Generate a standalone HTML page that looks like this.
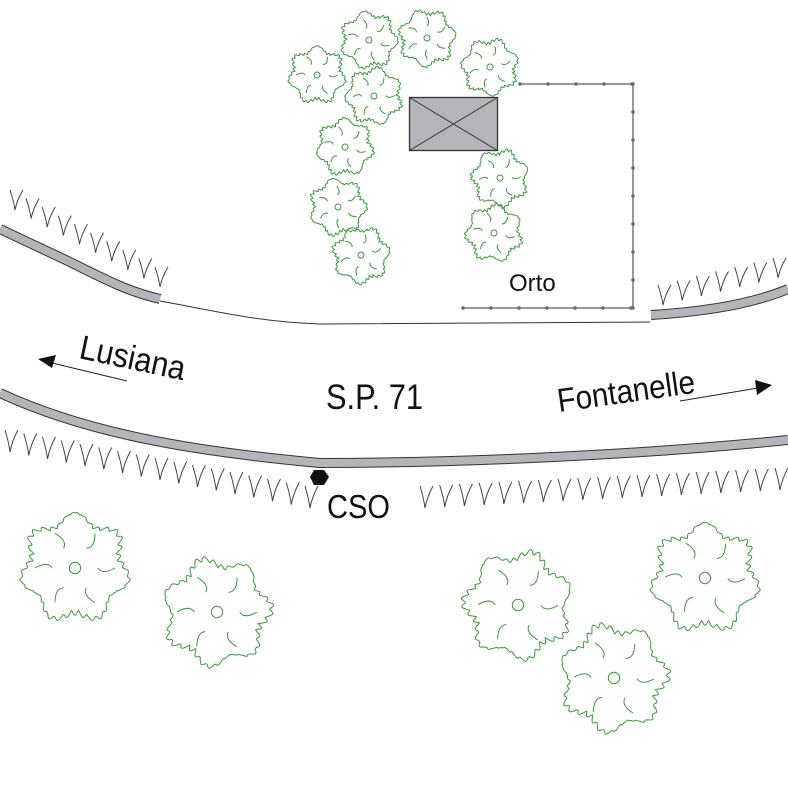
<!DOCTYPE html>
<html><head><meta charset="utf-8"><style>
html,body{margin:0;padding:0;background:#fff;}
svg{display:block;}
text{font-family:"Liberation Sans",sans-serif;fill:#111;}
</style></head><body>
<svg id="s" width="788" height="788" viewBox="0 0 788 788" xmlns="http://www.w3.org/2000/svg">
<g id="trees" fill="none" stroke="#3a9a3a" stroke-width="1"></g>
<g id="grass" fill="none" stroke="#444" stroke-width="1"></g>
<path d="M160,301 C220,312 260,322 320,324 L650,322" fill="none" stroke="#333" stroke-width="1"/>
<g stroke="#333" stroke-width="10" fill="none" stroke-linejoin="round">
<path d="M0,229 L70,262 C110,282 130,292 160,299"/>
<path d="M651,315 C700,312 750,305 788,289"/>
<path d="M0,393 C90,435 200,452 320,463 C460,463 640,455 788,440"/>
</g>
<g stroke="#b4b5b8" stroke-width="8" fill="none" stroke-linejoin="round">
<path d="M0,229 L70,262 C110,282 130,292 160,299"/>
<path d="M651,315 C700,312 750,305 788,289"/>
<path d="M0,393 C90,435 200,452 320,463 C460,463 640,455 788,440"/>
</g>
<path d="M520,84 L633,84 L633,308 L463,308" fill="none" stroke="#777" stroke-width="1.5"/>
<g id="fd" fill="#666"></g>
<rect x="409.5" y="97.5" width="88" height="53" fill="#b4b5b8" stroke="#333" stroke-width="1.3"/>
<path d="M409.5,97.5 L497.5,150.5 M497.5,97.5 L409.5,150.5" stroke="#333" stroke-width="1"/>
<polygon points="314,470 324,470 329,477 324,485 314,485 310,477" fill="#111"/>
<text x="509" y="291" font-size="24">Orto</text>
<text x="326" y="409" font-size="35" transform="translate(326,409) scale(0.88,1) translate(-326,-409)">S.P. 71</text>
<text x="327" y="518" font-size="33" transform="translate(327,518) scale(0.88,1) translate(-327,-518)">CSO</text>
<g transform="translate(78,358) rotate(12)">
<text x="0" y="0" font-size="34" transform="scale(0.9,1)">Lusiana</text>
</g>
<path d="M127,381 L52,363" stroke="#222" stroke-width="1"/>
<polygon points="38,359 56,355 52,368" fill="#111"/>
<g transform="translate(559,412) rotate(-8)">
<text x="0" y="0" font-size="33" transform="scale(0.9,1)">Fontanelle</text>
</g>
<path d="M680,401 L758,388" stroke="#222" stroke-width="1"/>
<polygon points="772,385 755,380 757,395" fill="#111"/>
</svg>
<script>
var NS="http://www.w3.org/2000/svg";
function tree(cx,cy,r,seed){
  var d="",n=300;
  for(var i=0;i<=n;i++){
    var a=i/n*Math.PI*2;
    var rr=r*(0.84+0.09*Math.sin(a*7+seed)+0.06*Math.abs(Math.sin(a*19+seed*2))+0.02*Math.sin(a*41));
    d+=(i?"L":"M")+(cx+rr*Math.cos(a)).toFixed(1)+","+(cy+rr*Math.sin(a)).toFixed(1);
  }
  var g=document.getElementById("trees");
  var p=document.createElementNS(NS,"path");p.setAttribute("d",d+"Z");g.appendChild(p);
  var c=document.createElementNS(NS,"circle");c.setAttribute("cx",cx);c.setAttribute("cy",cy);c.setAttribute("r",r*0.1);g.appendChild(c);
  for(var k=0;k<6;k++){var a=k/6*Math.PI*2+seed;
    var q=document.createElementNS(NS,"path");
    q.setAttribute("d","M"+(cx+r*0.4*Math.cos(a))+","+(cy+r*0.4*Math.sin(a))+" q"+(r*0.15*Math.cos(a+1))+","+(r*0.15*Math.sin(a+1))+" "+(r*0.3*Math.cos(a))+","+(r*0.3*Math.sin(a)));
    g.appendChild(q);}
}
[[317,75],[369,40],[427,38],[490,67],[374,96],[345,147],[338,207],[361,255],[500,178],[494,233]].forEach(function(t,i){tree(t[0],t[1],30,i*1.3);});
[[75,568],[217,612],[518,605],[705,578],[614,678]].forEach(function(t,i){tree(t[0],t[1],57,i*2.1);});
function grass(x1,y1,x2,y2,n,h){
  var g=document.getElementById("grass");
  for(var i=0;i<n;i++){var t=i/(n-1),x=x1+(x2-x1)*t,y=y1+(y2-y1)*t;
    var p=document.createElementNS(NS,"path");
    p.setAttribute("d","M"+(x-5)+","+(y-h)+" Q"+(x-1)+","+(y-h*0.4)+" "+x+","+y+" Q"+(x+2)+","+(y-h*0.5)+" "+(x+8)+","+(y-h));
    g.appendChild(p);}
}
grass(15,210,160,287,10,20);
grass(663,305,778,278,7,20);
grass(10,452,310,508,17,22);
grass(425,508,780,490,19,22);
var fd=document.getElementById("fd");
function dot(x,y){var c=document.createElementNS(NS,"circle");c.setAttribute("cx",x);c.setAttribute("cy",y);c.setAttribute("r",1.7);fd.appendChild(c);}
for(var x=520;x<=633;x+=28)dot(x,84);
for(var y=84;y<=308;y+=28)dot(633,y);
for(var x=463;x<=633;x+=28)dot(x,308);
</script>
</body></html>
